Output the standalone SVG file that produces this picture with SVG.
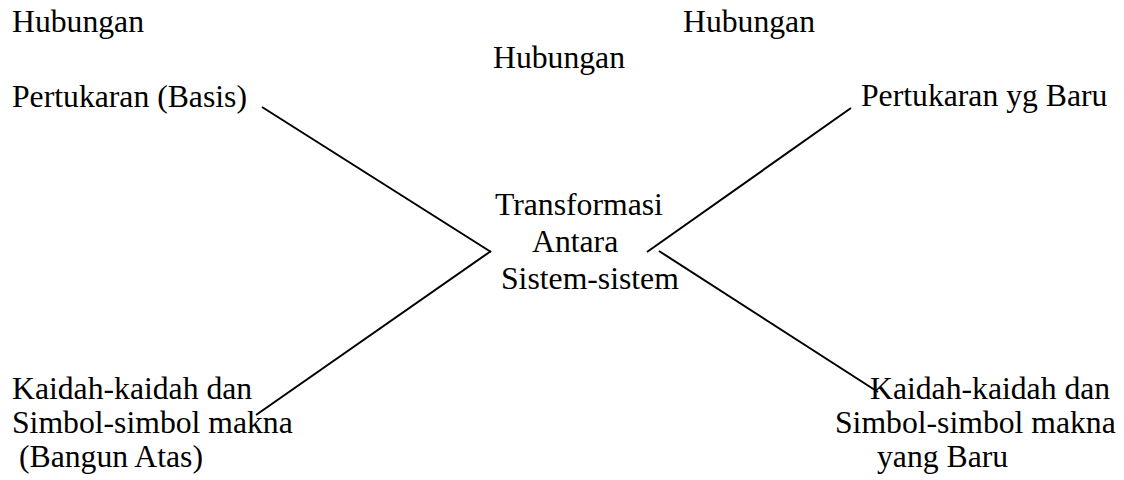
<svg xmlns="http://www.w3.org/2000/svg" width="1124" height="480" viewBox="0 0 1124 480">
<style>
text{font-family:"Liberation Serif","Times New Roman",serif;font-size:31.7px;fill:#000}
.c line{stroke:#000;stroke-width:2;fill:none}
</style>
<rect width="1124" height="480" fill="#fff"/>
<g id="n-hub-left"><text x="12" y="32">Hubungan</text><text x="12" y="107">Pertukaran (Basis)</text></g>
<g id="n-hub-mid"><text x="493" y="68">Hubungan</text></g>
<g id="n-hub-right"><text x="683" y="32">Hubungan</text><text x="861" y="106">Pertukaran yg Baru</text></g>
<g id="n-center"><text x="495" y="215">Transformasi</text><text x="532" y="252">Antara</text><text x="501" y="289">Sistem-sistem</text></g>
<g id="n-bottom-left"><text x="12" y="399">Kaidah-kaidah dan</text><text x="12" y="433">Simbol-simbol makna</text><text x="19" y="467">(Bangun Atas)</text></g>
<g id="n-bottom-right"><text x="870" y="399">Kaidah-kaidah dan</text><text x="835" y="433">Simbol-simbol makna</text><text x="877" y="467">yang Baru</text></g>
<g id="connectors" class="c">
<line x1="262" y1="107" x2="491" y2="252"/>
<line x1="491" y1="251" x2="256" y2="415"/>
<line x1="647" y1="252" x2="851" y2="108"/>
<line x1="659" y1="251" x2="878" y2="392"/>
</g>
</svg>
